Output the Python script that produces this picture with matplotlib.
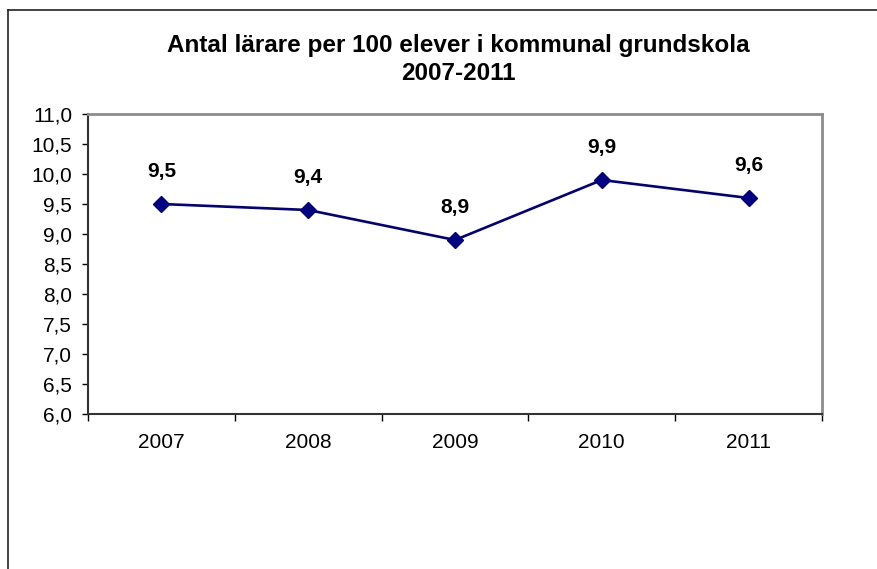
import matplotlib
matplotlib.use("Agg")
import matplotlib.pyplot as plt
from matplotlib.lines import Line2D

plt.rcParams['font.family'] = ['Liberation Sans', 'DejaVu Sans']

years = ["2007", "2008", "2009", "2010", "2011"]
values = [9.5, 9.4, 8.9, 9.9, 9.6]
yticks = [6.0, 6.5, 7.0, 7.5, 8.0, 8.5, 9.0, 9.5, 10.0, 10.5, 11.0]
title = "Antal lärare per 100 elever i kommunal grundskola\n2007-2011"

W, H = 878, 569
fig = plt.figure(figsize=(W / 100, H / 100), dpi=100)
ax = fig.add_axes([88 / W, 1 - 414 / H, (822 - 88) / W, (414 - 114) / H])

x = list(range(len(years)))
ax.plot(x, values, color='#000080', linewidth=1.9, marker='D', markersize=8.5,
        markerfacecolor='#000080', markeredgecolor='#000080', zorder=3)
for xi, v in zip(x, values):
    ax.annotate(f"{v:.1f}".replace('.', ','), (xi, v), xytext=(0, 23.5),
                textcoords='offset points', ha='center', va='center',
                fontsize=15, fontweight='bold')

ax.set_xlim(-0.5, len(years) - 0.5)
ax.set_ylim(6.0, 11.0)
ax.set_yticks(yticks)
ax.set_yticklabels([f"{t:.1f}".replace('.', ',') for t in yticks], fontsize=15)
ax.set_xticks(x)
ax.set_xticklabels(years, fontsize=15)
ax.tick_params(axis='x', which='major', length=0, pad=14)
ax.set_xticks([i - 0.5 for i in range(len(years) + 1)], minor=True)
ax.tick_params(axis='x', which='minor', length=5, width=1, direction='out', color='black')
ax.tick_params(axis='y', length=4.5, width=1, direction='out', pad=7, color='black')

for s in ['left', 'bottom']:
    ax.spines[s].set_color('#333333')
    ax.spines[s].set_linewidth(1.5)
for s in ['top', 'right']:
    ax.spines[s].set_color('#8c8c8c')
    ax.spines[s].set_linewidth(2)

fig.text(458.5 / W, 1 - 59.5 / H, title, ha='center', va='center', fontsize=17.5,
         fontweight='bold', linespacing=1.28)

# outer chart border (cut off at right and bottom)
fig.add_artist(Line2D([8 / W, 8 / W], [0, 1 - 10 / H], transform=fig.transFigure,
                      color='#222222', linewidth=1.2))
fig.add_artist(Line2D([8 / W, 1], [1 - 10 / H, 1 - 10 / H], transform=fig.transFigure,
                      color='#222222', linewidth=1.2))

fig.savefig("out.png", dpi=100)
